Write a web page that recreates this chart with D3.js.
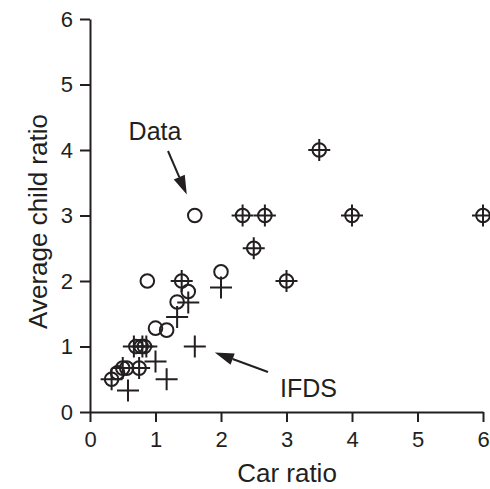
<!DOCTYPE html>
<html>
<head>
<meta charset="utf-8">
<script src="https://cdn.jsdelivr.net/npm/d3@7"></script>
<style>
  html, body { margin: 0; padding: 0; background: #fff; }
  svg text { font-family: "Liberation Sans", Arial, Helvetica, sans-serif; fill: #231f20; }
</style>
</head>
<body>
<svg id="chart" width="490" height="489"></svg>
<script>
// Data series (circles)
const dataX = [0.33, 0.42, 0.5, 0.56, 0.75, 0.7, 0.78, 0.83, 0.875, 1.0, 1.17, 1.33, 1.4, 1.5, 1.6, 2.0, 2.33, 2.5, 2.67, 3.0, 3.5, 4.0, 6.0];
const dataY = [0.5, 0.6, 0.67, 0.67, 0.67, 1.0, 1.0, 1.0, 2.0, 1.28, 1.25, 1.68, 2.0, 1.84, 3.0, 2.14, 3.0, 2.5, 3.0, 2.0, 4.0, 3.0, 3.0];
// IFDS series (plus signs)
const ifdsX = [0.33, 0.5, 0.58, 0.75, 0.67, 0.8, 0.86, 1.0, 1.17, 1.33, 1.4, 1.5, 1.6, 2.0, 2.33, 2.5, 2.67, 3.0, 3.5, 4.0, 6.0];
const ifdsY = [0.5, 0.67, 0.33, 0.67, 1.0, 1.0, 1.0, 0.77, 0.5, 1.45, 2.0, 1.67, 1.0, 1.9, 3.0, 2.5, 3.0, 2.0, 4.0, 3.0, 3.0];
const xTicks = [0, 1, 2, 3, 4, 5, 6];
const yTicks = [0, 1, 2, 3, 4, 5, 6];
const xTitle = "Car ratio";
const yTitle = "Average child ratio";
const annLabels = ["Data", "IFDS"];

const ink = "#231f20";
const svg = d3.select("#chart");
const x = d3.scaleLinear().domain([0, 6]).range([90, 483]);
const y = d3.scaleLinear().domain([0, 6]).range([412, 19]);

// axes
const gx = svg.append("g").attr("transform", `translate(0,${y(0)})`)
  .call(d3.axisBottom(x).tickValues(xTicks).tickSize(10).tickPadding(9).tickSizeOuter(0).tickFormat(d3.format("d")));
const gy = svg.append("g").attr("transform", `translate(${x(0)},0)`)
  .call(d3.axisLeft(y).tickValues(yTicks).tickSize(10).tickPadding(7).tickSizeOuter(0).tickFormat(d3.format("d")));
[gx, gy].forEach(g => {
  g.select(".domain").attr("stroke", ink).attr("stroke-width", 2);
  g.selectAll(".tick line").attr("stroke", ink).attr("stroke-width", 2);
  g.selectAll(".tick text").attr("font-size", 22).attr("fill", ink)
    .style("font-family", '"Liberation Sans", Arial, sans-serif');
});

// titles
svg.append("text").attr("x", 287).attr("y", 482).attr("text-anchor", "middle")
  .attr("font-size", 26).text(xTitle);
svg.append("text").attr("transform", `translate(47,${(y(0) + y(6)) / 2 + 6}) rotate(-90)`)
  .attr("text-anchor", "middle").attr("font-size", 26).text(yTitle);

// markers
const circ = svg.append("g");
dataX.forEach((d, i) => {
  circ.append("circle").attr("cx", x(d)).attr("cy", y(dataY[i])).attr("r", 6.8)
    .attr("fill", "none").attr("stroke", ink).attr("stroke-width", 2);
});
const plus = svg.append("g");
const arm = 11;
ifdsX.forEach((d, i) => {
  const cx = x(d), cy = y(ifdsY[i]);
  plus.append("path").attr("d", `M${cx - arm},${cy}H${cx + arm}M${cx},${cy - arm}V${cy + arm}`)
    .attr("stroke", ink).attr("stroke-width", 2).attr("fill", "none");
});

// annotations with arrows
function arrow(x1, y1, x2, y2) {
  const ang = Math.atan2(y2 - y1, x2 - x1);
  const L = 19, W = 6;
  const bx = x2 - L * Math.cos(ang), by = y2 - L * Math.sin(ang);
  svg.append("line").attr("x1", x1).attr("y1", y1).attr("x2", bx).attr("y2", by)
    .attr("stroke", ink).attr("stroke-width", 2);
  const px = -Math.sin(ang) * W, py = Math.cos(ang) * W;
  svg.append("path").attr("d", `M${x2},${y2}L${bx + px},${by + py}L${bx - px},${by - py}Z`).attr("fill", ink);
}
svg.append("text").attr("x", 155).attr("y", 140).attr("text-anchor", "middle").attr("font-size", 25).text(annLabels[0]);
arrow(168, 151, x(1.6) - 8, y(3.0) - 21);
svg.append("text").attr("x", 280).attr("y", 397).attr("font-size", 25).text(annLabels[1]);
arrow(268, 372, x(1.6) + 20, y(1.0) + 6);
</script>
</body>
</html>
